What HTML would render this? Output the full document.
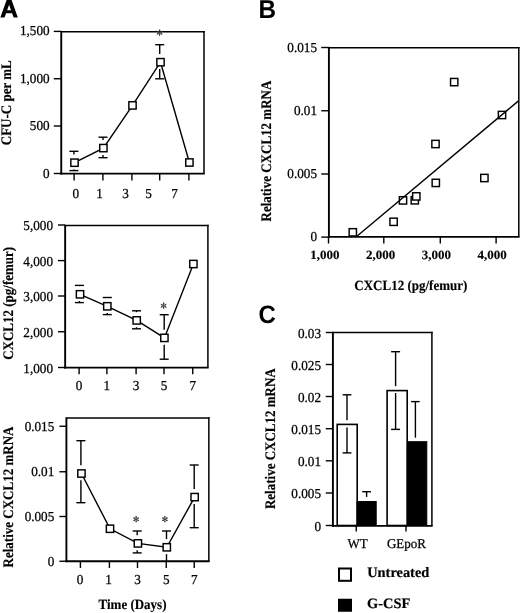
<!DOCTYPE html>
<html><head><meta charset="utf-8"><style>
html,body{margin:0;padding:0;background:#fff;}
body{width:520px;height:613px;overflow:hidden;}
svg{display:block;will-change:transform;}
.fl{fill:none;stroke:#000;stroke-width:1.9;}
.fr{fill:none;stroke:#000;stroke-width:1.5;}
.t{stroke:#000;stroke-width:1.4;}
.d{fill:none;stroke:#000;stroke-width:1.4;}
.e{stroke:#000;stroke-width:1.4;}
.m{fill:#fff;stroke:#000;stroke-width:1.45;}
.bw{fill:#fff;stroke:#000;stroke-width:1.6;}
.bb{fill:#000;stroke:#000;stroke-width:1;}
text{font-family:"Liberation Serif",serif;fill:#000;text-rendering:geometricPrecision;}
.n{font-size:13.2px;stroke:#000;stroke-width:0.25px;}
.n2{font-size:13px;stroke:#000;stroke-width:0.25px;}
.nb{font-size:13px;font-weight:bold;stroke:#000;stroke-width:0.15px;}
.as path{stroke:#333;stroke-width:0.8;stroke-linecap:round;fill:none;}
.as circle{fill:#333;}
.yl{font-size:13px;font-weight:bold;stroke:#000;stroke-width:0.15px;}
.xl{font-size:13px;font-weight:bold;stroke:#000;stroke-width:0.15px;}
.lg{font-size:14.4px;font-weight:bold;stroke:#000;stroke-width:0.2px;}
.L{font-family:"Liberation Sans",sans-serif;font-size:25px;font-weight:bold;}
</style></head><body>
<svg width="520" height="613" viewBox="0 0 520 613">
<path d="M6.71 -0.30 L11.49 -0.30 L17.83 17.60 L13.63 17.60 L12.11 13.30 L6.09 13.30 L4.57 17.60 L0.37 17.60 Z M9.10 4.80 L11.05 10.30 L7.15 10.30 Z" fill="#000" fill-rule="evenodd"/>
<text transform="translate(258.4,17.8) scale(1,1.066)" class="L" style="font-size:24.3px">B</text>
<text transform="translate(258.4,322.65) scale(1,1.047)" class="L" style="font-size:24px">C</text>
<path d="M61.25 31.05 V174.54999999999998" class="fl"/><path d="M60.3 173.6 H204.75" class="fl"/><path d="M61.25 31.8 H204.75" class="fr"/><path d="M204.0 31.05 V173.6" class="fr"/>
<line x1="53.75" y1="31.4" x2="61.25" y2="31.4" class="t"/>
<text transform="translate(49.60,35.40) scale(1,1.04)" class="n" text-anchor="end">1,500</text>
<line x1="53.75" y1="78.75" x2="61.25" y2="78.75" class="t"/>
<text transform="translate(49.60,82.75) scale(1,1.04)" class="n" text-anchor="end">1,000</text>
<line x1="53.75" y1="126" x2="61.25" y2="126" class="t"/>
<text transform="translate(49.60,130.00) scale(1,1.04)" class="n" text-anchor="end">500</text>
<line x1="53.75" y1="173.5" x2="61.25" y2="173.5" class="t"/>
<text transform="translate(49.60,177.50) scale(1,1.04)" class="n" text-anchor="end">0</text>
<line x1="74.1" y1="173.6" x2="74.1" y2="180.6" class="t"/>
<line x1="102.9" y1="173.6" x2="102.9" y2="180.6" class="t"/>
<line x1="131.9" y1="173.6" x2="131.9" y2="180.6" class="t"/>
<line x1="159.7" y1="173.6" x2="159.7" y2="180.6" class="t"/>
<line x1="188.9" y1="173.6" x2="188.9" y2="180.6" class="t"/>
<text transform="translate(75.90,197.60) scale(1,1.04)" class="n" text-anchor="middle">0</text>
<text transform="translate(99.50,197.60) scale(1,1.04)" class="n" text-anchor="middle">1</text>
<text transform="translate(125.60,197.60) scale(1,1.04)" class="n" text-anchor="middle">3</text>
<text transform="translate(148.50,197.60) scale(1,1.04)" class="n" text-anchor="middle">5</text>
<text transform="translate(174.60,197.60) scale(1,1.04)" class="n" text-anchor="middle">7</text>
<polyline points="74.5,162.7 103.4,148.1 132.5,105.4 160.5,62.2 189.4,162.5" class="d"/>
<line x1="73.9" y1="151.3" x2="73.9" y2="154.50" class="e"/>
<line x1="69.40" y1="151.3" x2="78.40" y2="151.3" class="e"/>
<line x1="73.9" y1="169.50" x2="73.9" y2="170.6" class="e"/>
<line x1="69.40" y1="170.6" x2="78.40" y2="170.6" class="e"/>
<line x1="103.0" y1="137.2" x2="103.0" y2="139.90" class="e"/>
<line x1="98.50" y1="137.2" x2="107.50" y2="137.2" class="e"/>
<line x1="103.0" y1="154.90" x2="103.0" y2="157.7" class="e"/>
<line x1="98.50" y1="157.7" x2="107.50" y2="157.7" class="e"/>
<line x1="159.7" y1="44.7" x2="159.7" y2="54.00" class="e"/>
<line x1="155.20" y1="44.7" x2="164.20" y2="44.7" class="e"/>
<line x1="159.7" y1="69.00" x2="159.7" y2="78.8" class="e"/>
<line x1="155.20" y1="78.8" x2="164.20" y2="78.8" class="e"/>
<rect x="70.85" y="159.05" width="7.3" height="7.3" class="m"/>
<rect x="99.75" y="144.45" width="7.3" height="7.3" class="m"/>
<rect x="128.85" y="101.75" width="7.3" height="7.3" class="m"/>
<rect x="156.85" y="58.55" width="7.3" height="7.3" class="m"/>
<rect x="185.75" y="158.85" width="7.3" height="7.3" class="m"/>
<g class="as"><path d="M159.60 29.80L159.60 35.60M157.09 31.25L162.11 34.15M157.09 34.15L162.11 31.25"/><circle cx="159.60" cy="30.61" r="0.75"/><circle cx="159.60" cy="34.79" r="0.75"/><circle cx="157.79" cy="31.66" r="0.75"/><circle cx="161.41" cy="33.74" r="0.75"/><circle cx="157.79" cy="33.74" r="0.75"/><circle cx="161.41" cy="31.66" r="0.75"/></g>
<text transform="translate(10.6,102.75) rotate(-90) scale(1,1.12)" class="yl" text-anchor="middle">CFU-C per mL</text>
<path d="M65.15 224.85 V368.55" class="fl"/><path d="M64.2 367.6 H208.65" class="fl"/><path d="M65.15 225.6 H208.65" class="fr"/><path d="M207.9 224.85 V367.6" class="fr"/>
<line x1="58" y1="225" x2="65.15" y2="225" class="t"/>
<text transform="translate(53.00,230.20) scale(1,1.04)" class="n" text-anchor="end">5,000</text>
<line x1="58" y1="260.6" x2="65.15" y2="260.6" class="t"/>
<text transform="translate(53.00,265.80) scale(1,1.04)" class="n" text-anchor="end">4,000</text>
<line x1="58" y1="296" x2="65.15" y2="296" class="t"/>
<text transform="translate(53.00,301.20) scale(1,1.04)" class="n" text-anchor="end">3,000</text>
<line x1="58" y1="331.75" x2="65.15" y2="331.75" class="t"/>
<text transform="translate(53.00,336.95) scale(1,1.04)" class="n" text-anchor="end">2,000</text>
<line x1="58" y1="367.5" x2="65.15" y2="367.5" class="t"/>
<text transform="translate(53.00,372.70) scale(1,1.04)" class="n" text-anchor="end">1,000</text>
<line x1="79.1" y1="367.6" x2="79.1" y2="374.2" class="t"/>
<text transform="translate(79.10,389.70) scale(1,1.04)" class="n" text-anchor="middle">0</text>
<line x1="106.9" y1="367.6" x2="106.9" y2="374.2" class="t"/>
<text transform="translate(106.90,389.70) scale(1,1.04)" class="n" text-anchor="middle">1</text>
<line x1="136.1" y1="367.6" x2="136.1" y2="374.2" class="t"/>
<text transform="translate(136.10,389.70) scale(1,1.04)" class="n" text-anchor="middle">3</text>
<line x1="164" y1="367.6" x2="164" y2="374.2" class="t"/>
<text transform="translate(164.00,389.70) scale(1,1.04)" class="n" text-anchor="middle">5</text>
<line x1="192.75" y1="367.6" x2="192.75" y2="374.2" class="t"/>
<text transform="translate(192.75,389.70) scale(1,1.04)" class="n" text-anchor="middle">7</text>
<polyline points="80,294.3 107.3,306.3 136.7,320.4 164.4,337.9 193.4,264" class="d"/>
<line x1="79.4" y1="285.4" x2="79.4" y2="286.10" class="e"/>
<line x1="74.90" y1="285.4" x2="83.90" y2="285.4" class="e"/>
<line x1="79.4" y1="301.10" x2="79.4" y2="302.6" class="e"/>
<line x1="74.90" y1="302.6" x2="83.90" y2="302.6" class="e"/>
<line x1="107.3" y1="297.5" x2="107.3" y2="298.10" class="e"/>
<line x1="102.80" y1="297.5" x2="111.80" y2="297.5" class="e"/>
<line x1="107.3" y1="313.10" x2="107.3" y2="314.6" class="e"/>
<line x1="102.80" y1="314.6" x2="111.80" y2="314.6" class="e"/>
<line x1="136.5" y1="310.8" x2="136.5" y2="312.20" class="e"/>
<line x1="132.00" y1="310.8" x2="141.00" y2="310.8" class="e"/>
<line x1="136.5" y1="327.20" x2="136.5" y2="328.8" class="e"/>
<line x1="132.00" y1="328.8" x2="141.00" y2="328.8" class="e"/>
<line x1="164.2" y1="314.7" x2="164.2" y2="329.70" class="e"/>
<line x1="159.70" y1="314.7" x2="168.70" y2="314.7" class="e"/>
<line x1="164.2" y1="344.70" x2="164.2" y2="359.2" class="e"/>
<line x1="159.70" y1="359.2" x2="168.70" y2="359.2" class="e"/>
<rect x="76.35" y="290.65" width="7.3" height="7.3" class="m"/>
<rect x="103.65" y="302.65" width="7.3" height="7.3" class="m"/>
<rect x="133.05" y="316.75" width="7.3" height="7.3" class="m"/>
<rect x="160.75" y="334.25" width="7.3" height="7.3" class="m"/>
<rect x="189.75" y="260.35" width="7.3" height="7.3" class="m"/>
<g class="as"><path d="M163.60 302.80L163.60 308.60M161.09 304.25L166.11 307.15M161.09 307.15L166.11 304.25"/><circle cx="163.60" cy="303.61" r="0.75"/><circle cx="163.60" cy="307.79" r="0.75"/><circle cx="161.79" cy="304.66" r="0.75"/><circle cx="165.41" cy="306.74" r="0.75"/><circle cx="161.79" cy="306.74" r="0.75"/><circle cx="165.41" cy="304.66" r="0.75"/></g>
<text transform="translate(12.7,303.35) rotate(-90) scale(1,1.12)" class="yl" text-anchor="middle">CXCL12 (pg/femur)</text>
<path d="M66.4 417.3 V562.1500000000001" class="fl"/><path d="M65.45 561.2 H209.6" class="fl"/><path d="M66.4 418.05 H209.6" class="fr"/><path d="M208.85 417.3 V561.2" class="fr"/>
<line x1="59.4" y1="426.25" x2="66.4" y2="426.25" class="t"/>
<text transform="translate(54.30,430.65) scale(1,1.04)" class="n" text-anchor="end">0.015</text>
<line x1="59.4" y1="471.75" x2="66.4" y2="471.75" class="t"/>
<text transform="translate(54.30,476.15) scale(1,1.04)" class="n" text-anchor="end">0.01</text>
<line x1="59.4" y1="516.5" x2="66.4" y2="516.5" class="t"/>
<text transform="translate(54.30,520.90) scale(1,1.04)" class="n" text-anchor="end">0.005</text>
<line x1="59.4" y1="561.25" x2="66.4" y2="561.25" class="t"/>
<text transform="translate(54.30,565.65) scale(1,1.04)" class="n" text-anchor="end">0</text>
<line x1="80.4" y1="561.2" x2="80.4" y2="568" class="t"/>
<line x1="109.4" y1="561.2" x2="109.4" y2="568" class="t"/>
<line x1="137.5" y1="561.2" x2="137.5" y2="568" class="t"/>
<line x1="166.25" y1="561.2" x2="166.25" y2="568" class="t"/>
<line x1="194.25" y1="561.2" x2="194.25" y2="568" class="t"/>
<text transform="translate(79.95,583.60) scale(1,1.04)" class="n" text-anchor="middle">0</text>
<text transform="translate(108.50,583.60) scale(1,1.04)" class="n" text-anchor="middle">1</text>
<text transform="translate(137.50,583.60) scale(1,1.04)" class="n" text-anchor="middle">3</text>
<text transform="translate(166.25,583.60) scale(1,1.04)" class="n" text-anchor="middle">5</text>
<text transform="translate(194.25,583.60) scale(1,1.04)" class="n" text-anchor="middle">7</text>
<polyline points="81.45,473.5 110,528.75 137.9,543.4 166.8,547.3 194.65,497.1" class="d"/>
<line x1="80.9" y1="440.7" x2="80.9" y2="465.30" class="e"/>
<line x1="76.40" y1="440.7" x2="85.40" y2="440.7" class="e"/>
<line x1="80.9" y1="480.30" x2="80.9" y2="502.7" class="e"/>
<line x1="76.40" y1="502.7" x2="85.40" y2="502.7" class="e"/>
<line x1="137.2" y1="531" x2="137.2" y2="535.20" class="e"/>
<line x1="132.70" y1="531" x2="141.70" y2="531" class="e"/>
<line x1="137.2" y1="550.20" x2="137.2" y2="552.9" class="e"/>
<line x1="132.70" y1="552.9" x2="141.70" y2="552.9" class="e"/>
<line x1="166.5" y1="531" x2="166.5" y2="539.10" class="e"/>
<line x1="162.00" y1="531" x2="171.00" y2="531" class="e"/>
<line x1="166.5" y1="554.2" x2="166.5" y2="561" class="e"/>
<line x1="194.2" y1="465" x2="194.2" y2="488.90" class="e"/>
<line x1="189.70" y1="465" x2="198.70" y2="465" class="e"/>
<line x1="194.2" y1="503.90" x2="194.2" y2="527.7" class="e"/>
<line x1="189.70" y1="527.7" x2="198.70" y2="527.7" class="e"/>
<rect x="77.80" y="469.85" width="7.3" height="7.3" class="m"/>
<rect x="106.35" y="525.10" width="7.3" height="7.3" class="m"/>
<rect x="134.25" y="539.75" width="7.3" height="7.3" class="m"/>
<rect x="163.15" y="543.65" width="7.3" height="7.3" class="m"/>
<rect x="191.00" y="493.45" width="7.3" height="7.3" class="m"/>
<g class="as"><path d="M136.10 516.30L136.10 522.10M133.59 517.75L138.61 520.65M133.59 520.65L138.61 517.75"/><circle cx="136.10" cy="517.11" r="0.75"/><circle cx="136.10" cy="521.29" r="0.75"/><circle cx="134.29" cy="518.16" r="0.75"/><circle cx="137.91" cy="520.24" r="0.75"/><circle cx="134.29" cy="520.24" r="0.75"/><circle cx="137.91" cy="518.16" r="0.75"/></g>
<g class="as"><path d="M164.90 516.30L164.90 522.10M162.39 517.75L167.41 520.65M162.39 520.65L167.41 517.75"/><circle cx="164.90" cy="517.11" r="0.75"/><circle cx="164.90" cy="521.29" r="0.75"/><circle cx="163.09" cy="518.16" r="0.75"/><circle cx="166.71" cy="520.24" r="0.75"/><circle cx="163.09" cy="520.24" r="0.75"/><circle cx="166.71" cy="518.16" r="0.75"/></g>
<text transform="translate(12.7,497) rotate(-90) scale(1,1.12)" class="yl" text-anchor="middle">Relative CXCL12 mRNA</text>
<text transform="translate(132.50,608.70) scale(1,1.08)" class="xl" text-anchor="middle">Time (Days)</text>
<path d="M328.9 46.9 V237.85" class="fl"/><path d="M327.95 236.9 H519.55" class="fl"/><path d="M328.9 47.65 H519.55" class="fr"/><path d="M518.8 46.9 V236.9" class="fr"/>
<line x1="321.25" y1="47.5" x2="328.9" y2="47.5" class="t"/>
<text transform="translate(317.00,51.80) scale(1,1.04)" class="n" text-anchor="end">0.015</text>
<line x1="321.25" y1="110.75" x2="328.9" y2="110.75" class="t"/>
<text transform="translate(317.00,115.05) scale(1,1.04)" class="n" text-anchor="end">0.01</text>
<line x1="321.25" y1="174" x2="328.9" y2="174" class="t"/>
<text transform="translate(317.00,178.30) scale(1,1.04)" class="n" text-anchor="end">0.005</text>
<line x1="321.25" y1="237.1" x2="328.9" y2="237.1" class="t"/>
<text transform="translate(317.00,241.40) scale(1,1.04)" class="n" text-anchor="end">0</text>
<line x1="328.5" y1="236.9" x2="328.5" y2="243.5" class="t"/>
<line x1="383.8" y1="236.9" x2="383.8" y2="243.5" class="t"/>
<line x1="440.3" y1="236.9" x2="440.3" y2="243.5" class="t"/>
<line x1="496.1" y1="236.9" x2="496.1" y2="243.5" class="t"/>
<text transform="translate(310.30,259.20) scale(1,0.97)" class="nb">1,000</text>
<text transform="translate(365.90,259.20) scale(1,0.97)" class="nb">2,000</text>
<text transform="translate(421.80,259.20) scale(1,0.97)" class="nb">3,000</text>
<text transform="translate(477.40,259.20) scale(1,0.97)" class="nb">4,000</text>
<rect x="349.15" y="228.65" width="7.3" height="7.3" class="m"/>
<rect x="389.95" y="218.15" width="7.3" height="7.3" class="m"/>
<rect x="411.15" y="196.65" width="7.3" height="7.3" class="m"/>
<rect x="399.35" y="196.75" width="7.3" height="7.3" class="m"/>
<rect x="412.65" y="192.75" width="7.3" height="7.3" class="m"/>
<rect x="432.15" y="179.25" width="7.3" height="7.3" class="m"/>
<rect x="431.85" y="140.35" width="7.3" height="7.3" class="m"/>
<rect x="450.55" y="78.45" width="7.3" height="7.3" class="m"/>
<rect x="480.75" y="174.35" width="7.3" height="7.3" class="m"/>
<rect x="498.35" y="111.35" width="7.3" height="7.3" class="m"/>
<line x1="356.3" y1="236.7" x2="518.2" y2="101.1" class="d"/>
<text transform="translate(270.9,151.1) rotate(-90) scale(1,1.12)" class="yl" text-anchor="middle">Relative CXCL12 mRNA</text>
<text transform="translate(410.80,290.30) scale(1,1.08)" class="xl" text-anchor="middle">CXCL12 (pg/femur)</text>
<line x1="325.75" y1="332.5" x2="332.9" y2="332.5" class="t"/>
<text transform="translate(321.00,337.80) scale(1,1.04)" class="n" text-anchor="end">0.03</text>
<line x1="325.75" y1="364.5" x2="332.9" y2="364.5" class="t"/>
<text transform="translate(321.00,369.80) scale(1,1.04)" class="n" text-anchor="end">0.025</text>
<line x1="325.75" y1="396.5" x2="332.9" y2="396.5" class="t"/>
<text transform="translate(321.00,401.80) scale(1,1.04)" class="n" text-anchor="end">0.02</text>
<line x1="325.75" y1="428.7" x2="332.9" y2="428.7" class="t"/>
<text transform="translate(321.00,434.00) scale(1,1.04)" class="n" text-anchor="end">0.015</text>
<line x1="325.75" y1="460.8" x2="332.9" y2="460.8" class="t"/>
<text transform="translate(321.00,466.10) scale(1,1.04)" class="n" text-anchor="end">0.01</text>
<line x1="325.75" y1="493" x2="332.9" y2="493" class="t"/>
<text transform="translate(321.00,498.30) scale(1,1.04)" class="n" text-anchor="end">0.005</text>
<line x1="325.75" y1="525.5" x2="332.9" y2="525.5" class="t"/>
<text transform="translate(321.00,530.80) scale(1,1.04)" class="n" text-anchor="end">0</text>
<rect x="337.2" y="424.4" width="20" height="101.1" class="bw"/>
<rect x="357" y="501.5" width="19.2" height="24" class="bb"/>
<rect x="387.1" y="390.6" width="20.1" height="134.9" class="bw"/>
<rect x="407.3" y="441.7" width="19.5" height="83.8" class="bb"/>
<line x1="347" y1="394.8" x2="347" y2="420.20" class="e"/>
<line x1="342.60" y1="394.8" x2="351.40" y2="394.8" class="e"/>
<line x1="347" y1="427.40" x2="347" y2="452.9" class="e"/>
<line x1="342.60" y1="452.9" x2="351.40" y2="452.9" class="e"/>
<line x1="395.6" y1="351.7" x2="395.6" y2="386.20" class="e"/>
<line x1="391.10" y1="351.7" x2="400.10" y2="351.7" class="e"/>
<line x1="395.6" y1="393.00" x2="395.6" y2="429.4" class="e"/>
<line x1="391.10" y1="429.4" x2="400.10" y2="429.4" class="e"/>
<line x1="366.6" y1="491.7" x2="366.6" y2="496.90" class="e"/>
<line x1="362.25" y1="491.7" x2="370.95" y2="491.7" class="e"/>
<line x1="415.4" y1="401.6" x2="415.4" y2="437.70" class="e"/>
<line x1="411.10" y1="401.6" x2="419.70" y2="401.6" class="e"/>
<path d="M332.9 331.85 V526.85" class="fl"/><path d="M331.95 525.9 H432.65" class="fl"/><path d="M332.9 332.6 H432.65" class="fr"/><path d="M431.9 331.85 V525.9" class="fr"/>
<line x1="356.25" y1="525.9" x2="356.25" y2="531.5" class="t"/>
<line x1="406" y1="525.9" x2="406" y2="531.5" class="t"/>
<text transform="translate(357.70,547.80) scale(1,1.04)" class="n2" text-anchor="middle">WT</text>
<text transform="translate(406.40,547.80) scale(1,1.04)" class="n2" text-anchor="middle">GEpoR</text>
<text transform="translate(275,438.65) rotate(-90) scale(1,1.12)" class="yl" text-anchor="middle">Relative CXCL12 mRNA</text>
<rect x="339" y="568.5" width="12" height="12.3" fill="#fff" stroke="#000" stroke-width="2"/>
<rect x="338" y="598.75" width="14" height="13" fill="#000"/>
<text x="367.2" y="576.8" class="lg">Untreated</text>
<text x="367.0" y="607.5" class="lg">G-CSF</text>
</svg>
</body></html>
